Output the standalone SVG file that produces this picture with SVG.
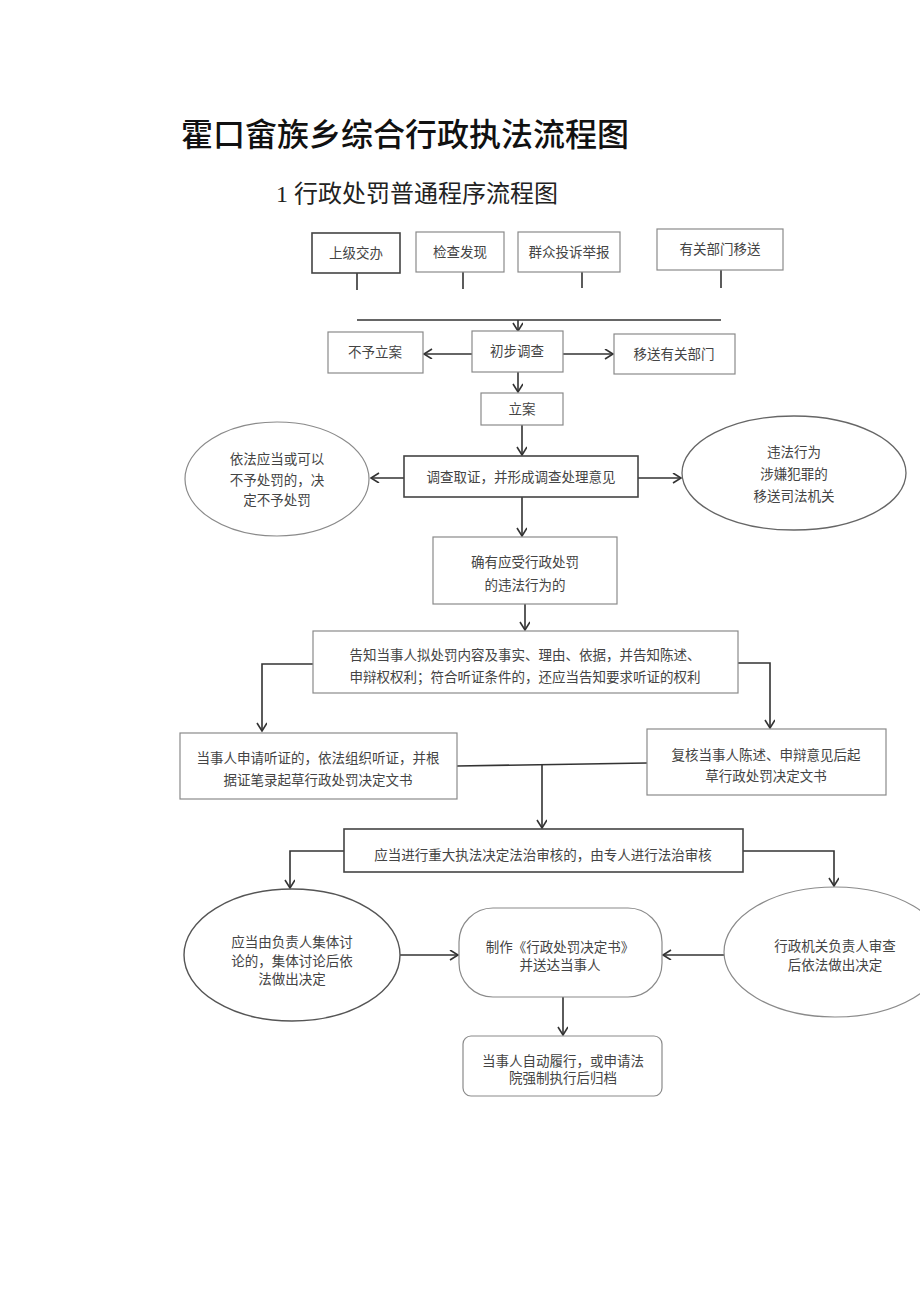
<svg xmlns="http://www.w3.org/2000/svg" width="920" height="1301" viewBox="0 0 920 1301">
<defs>
<marker id="arr" markerWidth="12" markerHeight="12" refX="9" refY="5" orient="auto" markerUnits="userSpaceOnUse">
<path d="M1,0 L9,5 L1,10" fill="none" stroke="#333" stroke-width="1.6"/>
</marker>
<style>
.bx{fill:#fff;stroke:#8a8a8a;stroke-width:1.2}
.dk{fill:#fff;stroke:#444;stroke-width:1.6}
.t{font-family:"Liberation Serif","Noto Sans CJK SC",serif;font-size:13.5px;fill:#444;text-anchor:middle}
.ln{fill:none;stroke:#333;stroke-width:1.6}
.ar{fill:none;stroke:#333;stroke-width:1.6;marker-end:url(#arr)}
</style>
</defs>
<rect width="920" height="1301" fill="#fff"/>
<text x="181" y="146" font-family="'Noto Sans CJK SC',sans-serif" font-size="32" font-weight="500" fill="#111">霍口畲族乡综合行政执法流程图</text>
<text x="276" y="202" font-family="'Liberation Serif','Noto Sans CJK SC',serif" font-size="24" fill="#222">1 行政处罚普通程序流程图</text>

<g id="connectors">
<line class="ln" x1="357" y1="273" x2="357" y2="290"/>
<line class="ln" x1="463" y1="272" x2="463" y2="289"/>
<line class="ln" x1="582" y1="272" x2="582" y2="288"/>
<line class="ln" x1="721" y1="270" x2="721" y2="288"/>
<line class="ln" x1="357" y1="320" x2="721" y2="320"/>
<line class="ar" x1="518" y1="320" x2="518" y2="331"/>
<line class="ar" x1="472" y1="354" x2="424" y2="354"/>
<line class="ar" x1="563" y1="354" x2="613" y2="354"/>
<line class="ar" x1="518" y1="372" x2="518" y2="392"/>
<line class="ar" x1="522" y1="425" x2="522" y2="455"/>
<line class="ar" x1="404" y1="478" x2="371" y2="478"/>
<line class="ar" x1="638" y1="478" x2="681" y2="478"/>
<line class="ar" x1="522" y1="497" x2="522" y2="536"/>
<line class="ar" x1="525" y1="604" x2="525" y2="630"/>
<polyline class="ar" points="313,664 262,664 262,731"/>
<polyline class="ar" points="738,663 770,663 770,728"/>
<line class="ln" x1="457" y1="766" x2="647" y2="763"/>
<line class="ar" x1="542" y1="765" x2="542" y2="828"/>
<polyline class="ar" points="344,851 290,851 290,888"/>
<polyline class="ar" points="743,851 834,851 834,886"/>
<line class="ar" x1="400" y1="955" x2="458" y2="955"/>
<line class="ar" x1="724" y1="955" x2="663" y2="955"/>
<line class="ar" x1="563" y1="997" x2="563" y2="1035"/>
</g>

<g id="n1"><rect class="dk" x="312" y="233" width="88" height="40"/><text class="t" x="356" y="258">上级交办</text></g>
<g id="n2"><rect class="bx" x="416" y="232" width="88" height="40"/><text class="t" x="460" y="257">检查发现</text></g>
<g id="n3"><rect class="bx" x="518" y="232" width="102" height="40"/><text class="t" x="569" y="257">群众投诉举报</text></g>
<g id="n4"><rect class="bx" x="657" y="229" width="126" height="41"/><text class="t" x="720" y="254">有关部门移送</text></g>
<g id="n5"><rect class="bx" x="328" y="332" width="95" height="41"/><text class="t" x="375" y="357">不予立案</text></g>
<g id="n6"><rect class="bx" x="472" y="331" width="91" height="41"/><text class="t" x="517" y="356">初步调查</text></g>
<g id="n7"><rect class="bx" x="614" y="334" width="121" height="40"/><text class="t" x="674" y="359">移送有关部门</text></g>
<g id="n8"><rect class="bx" x="481" y="393" width="82" height="32"/><text class="t" x="522" y="414">立案</text></g>
<g id="n9"><rect class="dk" x="404" y="456" width="234" height="41"/><text class="t" x="521" y="482">调查取证，并形成调查处理意见</text></g>
<g id="n10"><ellipse class="bx" cx="277" cy="479" rx="92" ry="57"/><text class="t" x="277" y="464">依法应当或可以</text><text class="t" x="277" y="485">不予处罚的，决</text><text class="t" x="277" y="505">定不予处罚</text></g>
<g id="n11"><ellipse class="dk" cx="794" cy="473" rx="112" ry="57" style="stroke:#666;stroke-width:1.3"/><text class="t" x="794" y="457">违法行为</text><text class="t" x="794" y="479">涉嫌犯罪的</text><text class="t" x="794" y="501">移送司法机关</text></g>
<g id="n12"><rect class="bx" x="433" y="537" width="184" height="67"/><text class="t" x="525" y="567">确有应受行政处罚</text><text class="t" x="525" y="590">的违法行为的</text></g>
<g id="n13"><rect class="bx" x="313" y="631" width="425" height="62"/><text class="t" x="525" y="660">告知当事人拟处罚内容及事实、理由、依据，并告知陈述、</text><text class="t" x="525" y="682">申辩权权利；符合听证条件的，还应当告知要求听证的权利</text></g>
<g id="n14"><rect class="bx" x="180" y="733" width="277" height="66"/><text class="t" x="318" y="763">当事人申请听证的，依法组织听证，并根</text><text class="t" x="318" y="785">据证笔录起草行政处罚决定文书</text></g>
<g id="n15"><rect class="bx" x="647" y="729" width="239" height="66"/><text class="t" x="766" y="760">复核当事人陈述、申辩意见后起</text><text class="t" x="766" y="781">草行政处罚决定文书</text></g>
<g id="n16"><rect class="dk" x="344" y="829" width="399" height="43"/><text class="t" x="543" y="860">应当进行重大执法决定法治审核的，由专人进行法治审核</text></g>
<g id="n17"><ellipse class="dk" cx="292" cy="955" rx="108" ry="66" style="stroke:#555;stroke-width:1.4"/><text class="t" x="292" y="947">应当由负责人集体讨</text><text class="t" x="292" y="966">论的，集体讨论后依</text><text class="t" x="292" y="984">法做出决定</text></g>
<g id="n18"><rect class="bx" x="459" y="908" width="203" height="89" rx="34"/><text class="t" x="560" y="952">制作《行政处罚决定书》</text><text class="t" x="560" y="970">并送达当事人</text></g>
<g id="n19"><ellipse class="bx" cx="835" cy="952" rx="111" ry="65"/><text class="t" x="835" y="951">行政机关负责人审查</text><text class="t" x="835" y="970">后依法做出决定</text></g>
<g id="n20"><rect class="bx" x="463" y="1036" width="199" height="60" rx="8"/><text class="t" x="563" y="1066">当事人自动履行，或申请法</text><text class="t" x="563" y="1083">院强制执行后归档</text></g>
</svg>
